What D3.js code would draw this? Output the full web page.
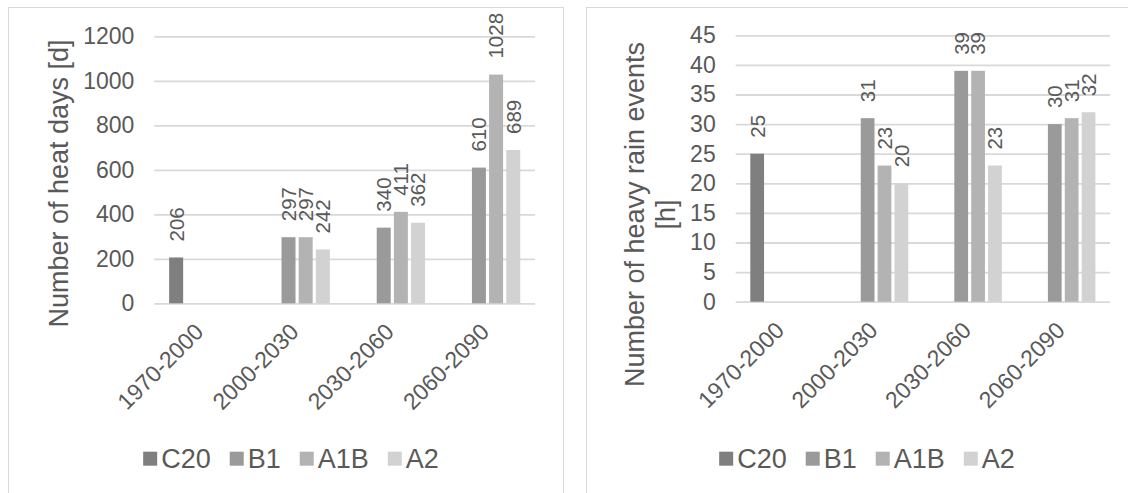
<!DOCTYPE html>
<html>
<head>
<meta charset="utf-8">
<script src="https://cdn.jsdelivr.net/npm/d3@7"></script>
<style>
  html, body { margin: 0; padding: 0; background: #ffffff; }
  svg { display: block; font-family: "Liberation Sans", Arial, sans-serif; }
</style>
</head>
<body>
<svg id="chart" width="1128" height="493"></svg>
<script>
// ---- data ----
const categories = ["1970-2000", "2000-2030", "2030-2060", "2060-2090"];
const seriesNames = ["C20", "B1", "A1B", "A2"];
const seriesColors = ["#7f7f7f", "#9a9a9a", "#b3b3b3", "#d2d2d2"];

const heatC20 = [206, null, null, null];
const heatB1  = [null, 297, 340, 610];
const heatA1B = [null, 297, 411, 1028];
const heatA2  = [null, 242, 362, 689];
const heatTicks = [0, 200, 400, 600, 800, 1000, 1200];

const rainC20 = [25, null, null, null];
const rainB1  = [null, 31, 39, 30];
const rainA1B = [null, 23, 39, 31];
const rainA2  = [null, 20, 23, 32];
const rainTicks = [0, 5, 10, 15, 20, 25, 30, 35, 40, 45];

const heatTitle = ["Number of heat days [d]"];
const rainTitle = ["Number of heavy rain events", "[h]"];

// ---- drawing ----
const svg = d3.select("#chart");
const textColor = "#595959";
const gridColor = "#d9d9d9";

// panel borders
svg.append("rect").attr("x", 8.5).attr("y", 7.5).attr("width", 555).attr("height", 520)
  .attr("fill", "#fff").attr("stroke", gridColor).attr("stroke-width", 1);
svg.append("rect").attr("x", 586.5).attr("y", 7.5).attr("width", 580).attr("height", 520)
  .attr("fill", "#fff").attr("stroke", gridColor).attr("stroke-width", 1);

function drawChart(cfg) {
  const g = svg.append("g");
  const series = [cfg.c20, cfg.b1, cfg.a1b, cfg.a2];
  const rows = [];
  series.forEach((vals, si) => vals.forEach((v, ci) => {
    if (v !== null) rows.push({ s: seriesNames[si], si, c: categories[ci], v });
  }));

  const x0 = d3.scaleBand().domain(categories).range([cfg.left, cfg.right])
    .paddingInner(0.312).paddingOuter(0.156);
  const x1 = d3.scaleBand().domain(seriesNames).range([0, x0.bandwidth()])
    .paddingInner(0.185).paddingOuter(0);
  const y = d3.scaleLinear().domain([0, cfg.ticks[cfg.ticks.length - 1]]).range([cfg.bottom, cfg.top]);

  // grid + y tick labels
  const yAxis = d3.axisLeft(y).tickValues(cfg.ticks).tickSize(-(cfg.right - cfg.left))
    .tickPadding(20).tickFormat(d3.format("d"));
  const ya = g.append("g").attr("transform", `translate(${cfg.left},0)`).call(yAxis);
  ya.select(".domain").remove();
  ya.selectAll(".tick line").attr("stroke", gridColor).attr("stroke-width", 1.8);
  ya.selectAll(".tick text").attr("fill", textColor).style("font-size", "23px")
    .style("font-family", '"Liberation Sans", Arial, sans-serif');

  // bars
  g.append("g").selectAll("rect").data(rows).join("rect")
    .attr("x", d => x0(d.c) + x1(d.s))
    .attr("y", d => y(d.v))
    .attr("width", x1.bandwidth())
    .attr("height", d => y(0) - y(d.v))
    .attr("fill", d => seriesColors[d.si]);

  // data labels (rotated)
  g.append("g").selectAll("text").data(rows).join("text")
    .attr("transform", d => `translate(${x0(d.c) + x1(d.s) + x1.bandwidth() / 2},${y(d.v) - 16}) rotate(-90)`)
    .attr("dy", "0.36em")
    .attr("text-anchor", "start")
    .attr("fill", textColor)
    .style("font-size", "20.5px")
    .text(d => d.v);

  // x axis labels
  const xAxis = d3.axisBottom(x0).tickSize(0).tickPadding(0);
  const xa = g.append("g").attr("transform", `translate(0,${cfg.bottom})`).call(xAxis);
  xa.select(".domain").remove();
  xa.selectAll(".tick text")
    .attr("x", 0).attr("y", 0).attr("dy", 0)
    .attr("transform", "translate(3,30) rotate(-45)")
    .style("text-anchor", "end")
    .attr("fill", textColor)
    .style("font-size", "23px")
    .style("font-family", '"Liberation Sans", Arial, sans-serif');

  // axis title
  cfg.title.forEach((line, i) => {
    g.append("text")
      .attr("transform", `translate(${cfg.titleX + i * cfg.titleLine},${cfg.titleY}) rotate(-90)`)
      .attr("text-anchor", "middle")
      .attr("fill", textColor)
      .style("font-size", "27px")
      .text(line);
  });

  // legend
  const lg = g.append("g");
  const items = seriesNames.map((n, i) => {
    const it = lg.append("g");
    it.append("rect").attr("width", 14).attr("height", 14).attr("y", -7).attr("fill", seriesColors[i]);
    const t = it.append("text").attr("x", 18).attr("dy", "0.35em").attr("fill", textColor)
      .style("font-size", "27px").text(n);
    return { it, w: 18 + t.node().getComputedTextLength() };
  });
  const gap = 19;
  const total = d3.sum(items, d => d.w) + gap * (items.length - 1);
  let cx = cfg.legendX - total / 2;
  items.forEach(d => { d.it.attr("transform", `translate(${cx},${cfg.legendY})`); cx += d.w + gap; });
}

drawChart({
  c20: heatC20, b1: heatB1, a1b: heatA1B, a2: heatA2, ticks: heatTicks,
  left: 154.3, right: 535.1, top: 36.3, bottom: 303.3,
  title: heatTitle, titleX: 68, titleY: 183.5, titleLine: 30.7,
  legendX: 291, legendY: 458.7
});

drawChart({
  c20: rainC20, b1: rainB1, a1b: rainA1B, a2: rainA2, ticks: rainTicks,
  left: 735.7, right: 1110, top: 35.3, bottom: 301.7,
  title: rainTitle, titleX: 644, titleY: 214.5, titleLine: 30.7,
  legendX: 867, legendY: 458.7
});
</script>
</body>
</html>
